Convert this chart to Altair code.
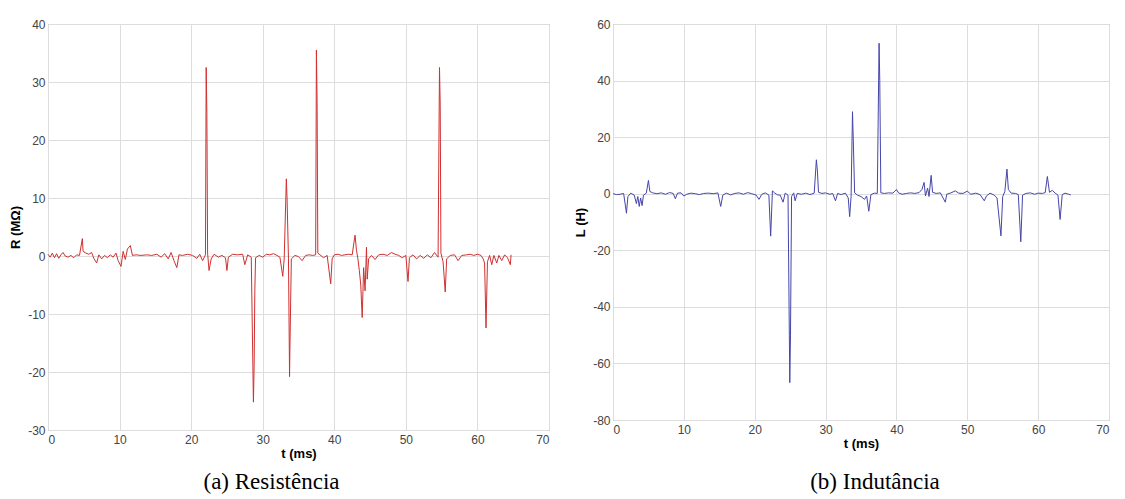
import altair as alt
import pandas as pd

# ---------------- data ----------------
t_R = [0.0, 0.3, 0.6, 0.9, 1.2, 1.5, 1.8, 2.1, 2.4, 2.8, 3.2, 3.6, 4.0, 4.4, 4.8, 4.9, 5.3, 5.7, 6.1, 6.4,
       6.8, 7.1, 7.5, 7.9, 8.3, 8.7, 9.1, 9.5, 9.8, 10.2, 10.5, 10.8, 11.1, 11.5, 11.8, 12.3, 13.0, 13.8, 14.5, 15.2,
       15.8, 16.3, 16.8, 17.2, 17.6, 18.0, 18.3, 18.8, 19.5, 20.2, 20.8, 21.2, 21.6, 22.0, 22.1, 22.2, 22.3, 22.5, 22.8, 23.2,
       23.8, 24.3, 24.8, 25.0, 25.2, 25.8, 26.5, 27.2, 27.5, 27.9, 28.4, 28.7, 28.8, 28.9, 29.0, 29.5, 30.0, 30.5, 31.0, 31.5,
       32.0, 32.4, 32.8, 33.0, 33.3, 33.4, 33.6, 33.75, 33.8, 34.0, 34.5, 35.0, 35.5, 36.0, 36.5, 37.0, 37.4, 37.5, 37.6, 37.7,
       38.0, 38.5, 39.0, 39.5, 39.7, 40.0, 40.5, 41.0, 41.5, 42.0, 42.5, 42.9, 43.1, 43.3, 43.5, 43.7, 43.9, 44.1, 44.3, 44.5,
       44.6, 44.8, 45.2, 45.7, 46.2, 46.8, 47.4, 48.0, 48.5, 49.0, 49.5, 50.0, 50.3, 50.5, 51.0, 51.5, 52.0, 52.5, 53.0, 53.5,
       54.0, 54.5, 54.7, 54.8, 54.9, 55.2, 55.5, 55.7, 56.2, 56.8, 57.3, 57.8, 58.5, 59.0, 59.5, 60.0, 60.5, 60.8, 61.0, 61.2,
       61.4, 61.7, 62.0, 62.3, 62.7, 63.0, 63.4, 63.8, 64.2, 64.6, 64.7]
R = [0.3, -0.2, 0.5, -0.3, 0.4, -0.4, 0.2, 0.6, 0.0, -0.2, 0.1, -0.3, 0.2, 0.1, 3.0, 0.8, 0.5, 0.3, 0.6, -0.4,
     -1.2, 0.2, -0.5, 0.1, -0.3, 0.2, -0.2, 0.5, -0.8, -1.8, 0.8, -0.6, 1.2, 1.8, 0.1, 0.2, 0.1, 0.2, 0.1, 0.3,
     -0.2, 0.4, -0.5, 0.6, -0.8, -2.0, 0.2, 0.1, 0.3, 0.1, -0.4, 0.3, -0.8, 0.2, 32.5, 24.5, 0.5, -2.5, -0.5, 0.3,
     -0.2, 0.1, -0.3, -2.5, -0.2, 0.3, 0.2, 0.3, -1.5, 0.2, -0.2, -25.2, -19.0, -6.0, -0.3, 0.1, -0.2, 0.3, 0.2, 0.4,
     0.1, -0.2, -3.5, -0.5, 13.3, 10.0, -0.5, -20.8, -16.0, -0.5, 0.1, -0.1, -0.8, 0.1, 0.2, 0.1, 0.2, 35.5, 26.5, 0.5,
     0.2, -0.3, 0.1, -4.8, -0.5, 0.2, 0.3, 0.1, 0.2, 0.3, 0.2, 3.6, 1.0, -0.5, -2.5, -5.0, -10.6, -2.0, -6.0, 1.5,
     -4.0, -0.5, 0.1, -0.6, 0.2, 0.3, 0.1, 0.6, 0.3, 0.1, -0.3, 0.1, -4.4, -0.3, 0.2, -0.5, 0.1, -0.4, 0.2, -0.3,
     0.6, -0.2, 32.5, 26.0, 0.5, -1.0, -6.2, -0.5, 0.1, 0.2, -0.8, 0.1, 0.2, 0.3, 0.1, 0.3, 0.1, -0.5, -1.2, -12.4,
     -1.0, 0.1, -1.5, 0.1, -1.2, 0.1, -0.8, 0.2, -0.3, -1.5, 0.2]

t_L = [0.0, 0.5, 1.0, 1.5, 1.9, 2.1, 2.5, 3.0, 3.3, 3.5, 3.7, 3.9, 4.1, 4.3, 4.7, 5.0, 5.2, 5.6, 6.2, 6.8,
       7.4, 8.0, 8.5, 8.8, 9.1, 9.6, 10.0, 10.4, 11.0, 11.6, 12.2, 12.8, 13.5, 14.2, 14.8, 15.2, 15.5, 16.0, 16.6, 17.2,
       17.8, 18.4, 19.0, 19.6, 20.2, 20.6, 21.0, 21.5, 22.0, 22.25, 22.5, 22.8, 23.2, 23.6, 24.0, 24.3, 24.7, 24.95, 25.05, 25.2,
       25.5, 25.7, 26.0, 26.6, 27.2, 27.8, 28.4, 28.7, 28.85, 29.0, 29.5, 30.0, 30.6, 31.0, 31.4, 31.7, 32.2, 32.8, 33.2, 33.4,
       33.6, 33.8, 33.9, 34.1, 34.5, 35.0, 35.5, 35.8, 36.1, 36.4, 36.9, 37.3, 37.55, 37.65, 37.8, 38.3, 38.9, 39.5, 40.0, 40.3,
       40.8, 41.4, 42.0, 42.6, 43.2, 43.6, 43.9, 44.1, 44.4, 44.6, 44.9, 45.1, 45.6, 46.2, 46.9, 47.1, 47.7, 48.3, 48.8, 49.4,
       50.0, 50.5, 51.2, 51.8, 52.4, 52.7, 53.2, 53.8, 54.2, 54.75, 55.0, 55.3, 55.6, 55.8, 56.2, 56.8, 57.2, 57.55, 57.8, 58.3,
       58.9, 59.5, 60.0, 60.6, 61.0, 61.3, 61.6, 62.0, 62.4, 62.8, 63.1, 63.4, 63.8, 64.3, 64.6]
L = [0.0, -0.3, -0.2, 0.1, -6.9, -1.0, 0.2, -0.5, -3.5, -1.0, -4.5, -1.5, -4.2, -0.5, 0.2, 4.7, 0.8, 0.3, 0.0, 0.3,
     -0.2, 0.4, 0.1, -1.8, 0.2, 0.3, -0.8, -0.2, 0.2, 0.0, -0.3, 0.1, 0.2, 0.0, 0.3, -4.5, -0.5, 0.2, -0.4, 0.1,
     0.3, -0.2, 0.4, 0.0, -0.5, -2.0, -0.2, 0.3, -0.5, -15.0, 1.0, 0.3, -0.4, -0.5, -3.0, 0.2, -0.5, -66.8, -50.0, -1.0,
     0.3, -2.5, 0.1, -0.2, 0.2, -0.3, 0.2, 12.0, 8.0, 0.5, 0.1, 0.3, -0.2, 0.1, -2.5, 0.1, -0.3, 0.2, -1.5, -8.1,
     -1.0, 29.0, 20.0, 0.3, -0.5, -1.0, -2.0, -0.8, -6.2, -0.3, 0.2, 0.1, 53.2, 40.0, 0.3, 0.1, 0.3, 0.2, 1.5, 0.3,
     -0.2, 0.1, 0.3, 0.1, 0.4, 1.5, 4.0, -0.8, 2.0, -1.0, 6.5, 0.5, 0.1, 0.3, -3.0, -0.2, 0.3, 1.0, 0.2, 0.1,
     0.9, -0.2, 0.2, -0.3, -2.5, -0.8, 0.2, -0.5, -1.5, -14.9, -1.0, 0.8, 8.7, 1.5, 0.2, 0.1, -0.3, -17.0, -0.5, 0.1,
     0.3, -0.2, 0.2, 0.1, 0.4, 6.1, 0.5, 1.2, 0.2, -0.5, -9.1, -0.3, 0.2, -0.2, -0.4]

x_ticks = [0, 10, 20, 30, 40, 50, 60, 70]
R_ticks = [-30, -20, -10, 0, 10, 20, 30, 40]
L_ticks = [-80, -60, -40, -20, 0, 20, 40, 60]

df_R = pd.DataFrame({"t": t_R, "R": R})
df_L = pd.DataFrame({"t": t_L, "L": L})


def panel(df, field, ytitle, domain, yticks, color, w, h, caption, dx, offset):
    return alt.Chart(
        df,
        title=alt.TitleParams(caption, orient="bottom", anchor="middle", dx=dx, offset=offset,
                              font="Liberation Serif", fontSize=23, fontWeight="normal", color="black"),
    ).mark_line(color=color, strokeWidth=1).encode(
        x=alt.X("t:Q", scale=alt.Scale(domain=[0, 70], nice=False),
                axis=alt.Axis(values=x_ticks, title="t (ms)", titlePadding=2,
                              labelExpr="toString(datum.value)")),
        y=alt.Y(f"{field}:Q", scale=alt.Scale(domain=domain, nice=False),
                axis=alt.Axis(values=yticks, title=ytitle, labelPadding=3,
                              labelExpr="toString(datum.value)")),
    ).properties(width=w, height=h)


left = panel(df_R, "R", "R (MΩ)", [-30, 40], R_ticks, "#cf3030", 501, 406,
             "(a) Resistência", -27, 11)
right = panel(df_L, "L", "L (H)", [-80, 60], L_ticks, "#4646aa", 496, 396,
              "(b) Indutância", 14, 21)

chart = alt.hconcat(left, right, spacing=24).properties(
    padding={"left": 1, "top": 9, "right": 0, "bottom": 0}
).configure_view(
    stroke="#9a9a9a", strokeWidth=1
).configure_axis(
    labelFont="Liberation Sans", labelFontSize=12, labelColor="#444444",
    titleFont="Liberation Sans", titleFontSize=13, titleFontWeight="bold", titleColor="black",
    ticks=False, domain=False, grid=True, gridColor="#dddddd", gridWidth=1,
    labelPadding=4, titlePadding=5,
)

chart.save("out.html", embed_options={"renderer": "svg", "actions": False})
